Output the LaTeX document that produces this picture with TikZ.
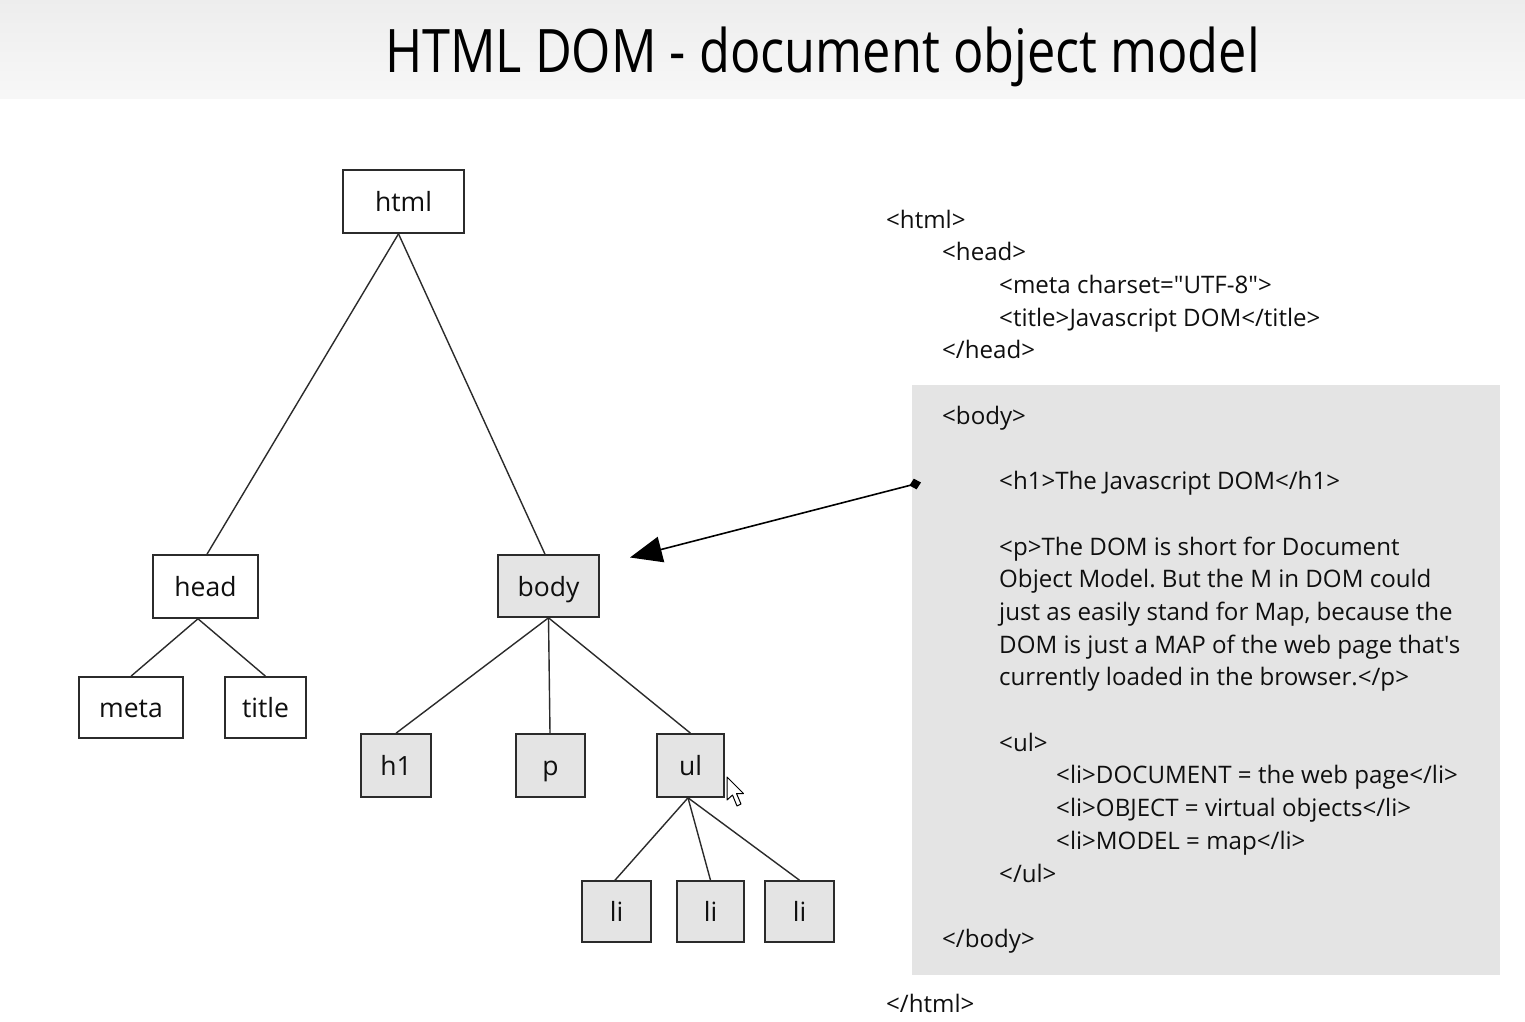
\documentclass[tikz,border=0pt]{standalone}
\usepackage{fontspec}
\setmainfont{Open Sans}[Ligatures=TeXOff]
\usetikzlibrary{arrows.meta,shapes.geometric}
\definecolor{ink}{HTML}{0F0F0F}
\definecolor{edge}{HTML}{2B2B2B}
\definecolor{panel}{HTML}{E4E4E4}
\definecolor{nodegray}{HTML}{E4E4E4}
\tikzset{
  treebox/.style={draw=edge, line width=1.6pt, fill=white, inner sep=0pt, text=ink,
    font=\fontsize{26.5}{31}\selectfont, text height=20pt, text depth=0pt},
  graybox/.style={treebox, fill=nodegray},
  link/.style={draw=edge, line width=1.4pt},
  code/.style={anchor=base west, inner sep=0pt, text=ink, font=\fontsize{24.1}{29}\selectfont}
}
\frenchspacing
\begin{document}
\begin{tikzpicture}[x=1pt,y=-1pt]
\useasboundingbox (0,0) rectangle (1525,1021);
\fill[white] (0,0) rectangle (1525,1021);
% top band
\shade[top color=white!93!black, bottom color=white!97!black] (0,0) rectangle (1525,98);
\node[anchor=base, inner sep=0pt, text=black] (titletext) at (822.5,72)
  {\resizebox{875pt}{\height}{\fontsize{60}{70}\selectfont HTML DOM - document object model}};

% code panel
\fill[panel] (912,385) rectangle (1500,975);

% tree nodes
\node[treebox, minimum width=121pt, minimum height=63pt] (html) at (403.5,201.5) {html};
\node[treebox, minimum width=105pt, minimum height=63pt] (head) at (205.5,586.5) {head};
\node[graybox, minimum width=101pt, minimum height=62pt] (body) at (548.5,586) {body};
\node[treebox, minimum width=104pt, minimum height=61pt] (meta) at (131,707.5) {meta};
\node[treebox, minimum width=81pt, minimum height=61pt] (title) at (265.5,707.5) {title};
\node[graybox, minimum width=70pt, minimum height=63pt] (h1) at (396,765.5) {h1};
\node[graybox, minimum width=69pt, minimum height=63pt] (p) at (550.5,765.5) {p};
\node[graybox, minimum width=67pt, minimum height=63pt] (ul) at (690.5,765.5) {ul};
\node[graybox, minimum width=69pt, minimum height=61pt] (li1) at (616.5,911.5) {li};
\node[graybox, minimum width=67pt, minimum height=61pt] (li2) at (710.5,911.5) {li};
\node[graybox, minimum width=69pt, minimum height=61pt] (li3) at (799.5,911.5) {li};

% tree edges
\draw[link] ([xshift=-5pt]html.south) -- ([xshift=1.5pt]head.north);
\draw[link] ([xshift=-5pt]html.south) -- ([xshift=-3.5pt]body.north);
\draw[link] ([xshift=-7.5pt]head.south) -- (meta.north);
\draw[link] ([xshift=-7.5pt]head.south) -- (title.north);
\draw[link] (body.south) -- (h1.north);
\draw[link] (body.south) -- ([xshift=-0.5pt]p.north);
\draw[link] (body.south) -- (ul.north);
\draw[link] ([xshift=-2.5pt]ul.south) -- ([xshift=-1.5pt]li1.north);
\draw[link] ([xshift=-2.5pt]ul.south) -- (li2.north);
\draw[link] ([xshift=-2.5pt]ul.south) -- (li3.north);

% code text
\node[code] (c1) at (886,228) {<html>};
\node[code] (c2) at (942,260.7) {<head>};
\node[code] (c3) at (999,293.4) {<meta charset="UTF-8">};
\node[code] (c4) at (999,326.1) {<title>Javascript DOM</title>};
\node[code] (c5) at (942,358.8) {</head>};
\node[code] (c6) at (942,424.2) {<body>};
\node[code] (c7) at (999,489.6) {<h1>The Javascript DOM</h1>};
\node[code] (c8) at (999,555) {<p>The DOM is short for Document};
\node[code] (c9) at (999,587.7) {Object Model. But the M in DOM could};
\node[code] (c10) at (999,620.4) {just as easily stand for Map, because the};
\node[code] (c11) at (999,653.1) {DOM is just a MAP of the web page that's};
\node[code] (c12) at (999,685.8) {currently loaded in the browser.</p>};
\node[code] (c13) at (999,751.2) {<ul>};
\node[code] (c14) at (1056,783.9) {<li>DOCUMENT = the web page</li>};
\node[code] (c15) at (1056,816.6) {<li>OBJECT = virtual objects</li>};
\node[code] (c16) at (1056,849.3) {<li>MODEL = map</li>};
\node[code] (c17) at (999,882) {</ul>};
\node[code] (c18) at (942,947.4) {</body>};
\node[code] (c19) at (886,1012.8) {</html>};

% arrow from panel to body node
\coordinate (src) at (921,482.5);
\coordinate (tip) at (630,557.5);
\draw[draw=black, line width=1.6pt, {Diamond[length=12pt,width=11pt]}-{Triangle[length=32pt,width=26pt]}] (src) -- (tip);

% mouse cursor
\draw[black, fill=white, line width=1pt, line join=round]
  (727,777) -- (727,800) -- (732.5,795) -- (737,806) -- (741,804) -- (736.5,793.5) -- (743.5,793.5) -- cycle;
\end{tikzpicture}
\end{document}
